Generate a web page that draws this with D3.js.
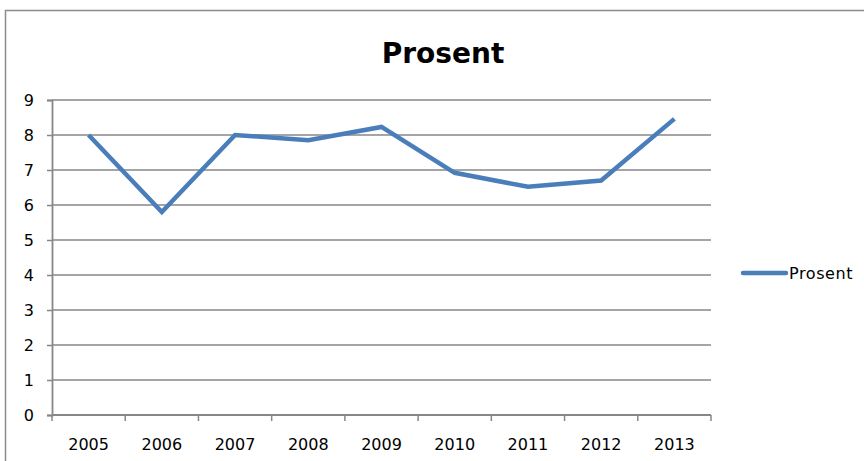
<!DOCTYPE html>
<html lang="en">
<head>
    <meta charset="UTF-8">
    <title>Prosent</title>
    <script src="https://d3js.org/d3.v7.min.js"></script>
    <style>
        body {
            margin: 0;
            background: white;
            font-family: "DejaVu Sans", sans-serif;
        }
        .tick-label {
            font-size: 16px;
            fill: black;
        }
    </style>
</head>
<body>
    <div id="chart"></div>

    <script>
        const years = ['2005', '2006', '2007', '2008', '2009', '2010', '2011', '2012', '2013'];
        const prosent = [8.0, 5.8, 8.0, 7.85, 8.23, 6.92, 6.52, 6.7, 8.46];
        const yTicks = [0, 1, 2, 3, 4, 5, 6, 7, 8, 9];

        const W = 864, H = 461;
        const plot = { left: 52, right: 711, top: 100, bottom: 415 };

        const svg = d3.select("#chart")
            .append("svg")
            .attr("width", W)
            .attr("height", H);

        // outer chart border (runs off the right and bottom edges)
        svg.append("rect")
            .attr("x", 5.5)
            .attr("y", 10.5)
            .attr("width", 900)
            .attr("height", 500)
            .attr("fill", "white")
            .attr("stroke", "#8c8c8c")
            .attr("stroke-width", 1.5);

        const x = d3.scaleBand()
            .domain(years)
            .range([plot.left, plot.right]);

        const y = d3.scaleLinear()
            .domain([0, 9])
            .range([plot.bottom, plot.top]);

        // gridlines
        svg.append("g")
            .selectAll("line")
            .data(yTicks.filter(d => d > 0))
            .enter()
            .append("line")
            .attr("x1", plot.left)
            .attr("x2", plot.right)
            .attr("y1", d => y(d))
            .attr("y2", d => y(d))
            .attr("stroke", "#878787")
            .attr("stroke-width", 1.6);

        // y axis
        const yAxis = svg.append("g")
            .attr("transform", `translate(${plot.left},0)`)
            .call(d3.axisLeft(y).tickValues(yTicks).tickSize(5).tickPadding(13).tickFormat(d3.format("d")));
        yAxis.select(".domain").attr("stroke", "#878787").attr("stroke-width", 1.8);
        yAxis.selectAll(".tick line").attr("stroke", "#878787").attr("stroke-width", 1.5);
        yAxis.selectAll(".tick text")
            .attr("class", "tick-label")
            .style("font-family", "DejaVu Sans")
            .style("font-size", "16px")
            .attr("fill", "black");

        // x axis, ticks at band edges
        const xAxisG = svg.append("g")
            .attr("transform", `translate(0,${plot.bottom})`);
        xAxisG.append("line")
            .attr("x1", plot.left)
            .attr("x2", plot.right)
            .attr("stroke", "#878787")
            .attr("stroke-width", 2);
        const edges = years.map(d => x(d)).concat([plot.right]);
        xAxisG.selectAll(".edge")
            .data(edges)
            .enter()
            .append("line")
            .attr("class", "edge")
            .attr("x1", d => d)
            .attr("x2", d => d)
            .attr("y1", 0)
            .attr("y2", 6)
            .attr("stroke", "#878787")
            .attr("stroke-width", 1.5);
        xAxisG.selectAll("text")
            .data(years)
            .enter()
            .append("text")
            .attr("class", "tick-label")
            .attr("x", d => x(d) + x.bandwidth() / 2)
            .attr("y", 35)
            .attr("text-anchor", "middle")
            .text(d => d);

        // line
        const line = d3.line()
            .x((d, i) => x(years[i]) + x.bandwidth() / 2)
            .y(d => y(d));

        svg.append("path")
            .datum(prosent)
            .attr("d", line)
            .attr("fill", "none")
            .attr("stroke", "#4a7ebb")
            .attr("stroke-width", 4.5)
            .attr("stroke-linejoin", "miter");

        // title
        svg.append("text")
            .attr("x", 443)
            .attr("y", 63)
            .attr("text-anchor", "middle")
            .style("font-size", "28px")
            .style("font-weight", "bold")
            .text("Prosent");

        // legend
        svg.append("line")
            .attr("x1", 743)
            .attr("x2", 786)
            .attr("y1", 273)
            .attr("y2", 273)
            .attr("stroke", "#4a7ebb")
            .attr("stroke-width", 4.5)
            .attr("stroke-linecap", "round");
        svg.append("text")
            .attr("x", 789)
            .attr("y", 279)
            .style("font-size", "16px")
            .style("letter-spacing", "0.6px")
            .text("Prosent");
    </script>
</body>
</html>
